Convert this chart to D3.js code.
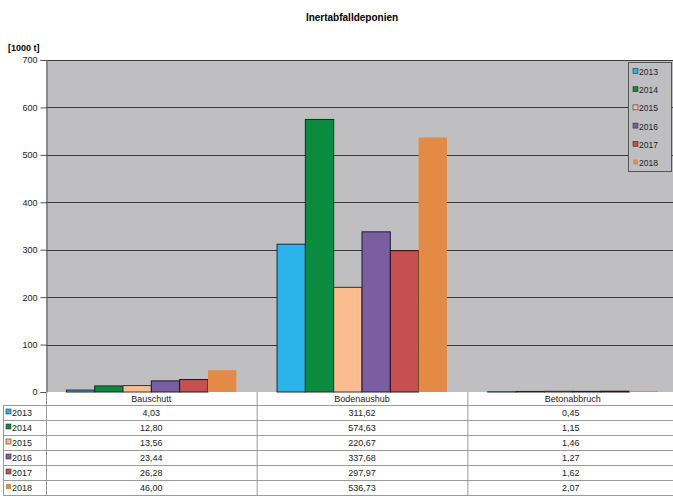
<!doctype html>
<html>
<head>
<meta charset="utf-8">
<script src="https://d3js.org/d3.v7.min.js"></script>
<style>
  body { margin: 0; background: #fff; }
  svg { font-family: "Liberation Sans", Arial, sans-serif; }
</style>
</head>
<body>
<svg width="673" height="500"></svg>
<script>
var categories = ["Bauschutt", "Bodenaushub", "Betonabbruch"];
var years = ["2013", "2014", "2015", "2016", "2017", "2018"];
var values2013 = [4.03, 311.62, 0.45];
var values2014 = [12.80, 574.63, 1.15];
var values2015 = [13.56, 220.67, 1.46];
var values2016 = [23.44, 337.68, 1.27];
var values2017 = [26.28, 297.97, 1.62];
var values2018 = [46.00, 536.73, 2.07];
var yTicks = [0, 100, 200, 300, 400, 500, 600, 700];

var series = [values2013, values2014, values2015, values2016, values2017, values2018];
var colors = ["#2ab4e9", "#0b8b3d", "#fbbd8f", "#7a5ea1", "#c5504f", "#e38a44"];
var strokes = ["#1a2a40", "#1a2a1a", "#3a3030", "#1a1a30", "#301010", "none"];

var svg = d3.select("svg");
var plotLeft = 46, plotRight = 678, plotTop = 60, plotBottom = 392;

var x = d3.scaleBand().domain(categories).range([plotLeft, plotRight]).padding(0);
var xi = d3.scaleBand().domain(years).range([0, x.bandwidth()]).paddingOuter(0.72).paddingInner(0);
var y = d3.scaleLinear().domain([0, 700]).range([plotBottom, plotTop]);

// title
svg.append("text").attr("x", 352).attr("y", 21).attr("text-anchor", "middle")
  .style("font-size", "10px").style("font-weight", "bold").text("Inertabfalldeponien");
svg.append("text").attr("x", 8).attr("y", 51)
  .style("font-size", "9px").style("font-weight", "bold").text("[1000 t]");

// plot background
svg.append("rect").attr("x", plotLeft).attr("y", plotTop).attr("width", plotRight - plotLeft).attr("height", plotBottom - plotTop)
  .attr("fill", "#bfbfc1");

// gridlines
svg.append("g").selectAll("line").data(yTicks.slice(1)).join("line")
  .attr("x1", plotLeft).attr("x2", plotRight)
  .attr("y1", d => Math.round(y(d)) + 0.5).attr("y2", d => Math.round(y(d)) + 0.5)
  .attr("stroke", "#3a3a3a").attr("stroke-width", 1);

// y axis
var yAxis = svg.append("g").attr("transform", "translate(" + (plotLeft + 0.5) + ",0)")
  .call(d3.axisLeft(y).tickValues(yTicks).tickSize(6).tickPadding(3));
yAxis.select(".domain").attr("stroke", "#555");
yAxis.selectAll(".tick line").attr("stroke", "#555");
yAxis.selectAll("text").style("font-size", "9px").style("font-family", "Liberation Sans, Arial, sans-serif").attr("fill", "#222");

// bars
var groups = svg.append("g").selectAll("g").data(years).join("g");
groups.selectAll("rect").data((yr, i) => categories.map((c, j) => ({ c: c, v: series[i][j], i: i })))
  .join("rect")
  .attr("x", d => x(d.c) + xi(years[d.i]))
  .attr("y", d => y(d.v))
  .attr("width", xi.bandwidth())
  .attr("height", d => plotBottom - y(d.v))
  .attr("fill", d => colors[d.i])
  .attr("stroke", d => strokes[d.i])
  .attr("stroke-width", 1);

// legend
var lg = svg.append("g").attr("transform", "translate(628,62)");
lg.append("rect").attr("x", 0.5).attr("y", 0.5).attr("width", 43).attr("height", 109)
  .attr("fill", "#bfbfc1").attr("stroke", "#555");
years.forEach(function (yr, i) {
  var row = lg.append("g").attr("transform", "translate(0," + (10 + i * 18.2) + ")");
  row.append("rect").attr("x", 5).attr("y", -3.5).attr("width", 5).attr("height", 5)
    .attr("fill", colors[i]).attr("stroke", i < 5 ? "#333" : "none").attr("stroke-width", 0.6);
  row.append("text").attr("x", 11).attr("y", 3).style("font-size", "8.5px").attr("fill", "#222").text(yr);
});

// data table
var rowH = 15;
var tbl = svg.append("g");
tbl.append("rect").attr("x", 3).attr("y", plotBottom + 13).attr("width", 670).attr("height", rowH * 6)
  .attr("fill", "#fff");
// horizontal lines
d3.range(7).forEach(function (k) {
  var yy = plotBottom + 13 + k * rowH + 0.5;
  tbl.append("line").attr("x1", 3).attr("x2", 673).attr("y1", yy).attr("y2", yy)
    .attr("stroke", "#9a9a9a");
});
// vertical lines
categories.concat(["_end"]).forEach(function (c) {
  var xx = c === "_end" ? plotRight : x(c);
  tbl.append("line").attr("x1", xx + 0.5).attr("x2", xx + 0.5).attr("y1", plotBottom).attr("y2", plotBottom + 13 + 6 * rowH)
    .attr("stroke", "#9a9a9a");
});
tbl.append("line").attr("x1", 3.5).attr("x2", 3.5).attr("y1", plotBottom + 13).attr("y2", plotBottom + 13 + 6 * rowH)
  .attr("stroke", "#9a9a9a");
// header
tbl.selectAll("text.head").data(categories).join("text").attr("class", "head")
  .attr("x", d => x(d) + x.bandwidth() / 2).attr("y", plotBottom + 10).attr("text-anchor", "middle")
  .style("font-size", "9px").attr("fill", "#222").text(d => d);
// rows
years.forEach(function (yr, i) {
  var yy = plotBottom + 13 + i * rowH + 11;
  tbl.append("rect").attr("x", 6).attr("y", yy - 7).attr("width", 5).attr("height", 5)
    .attr("fill", colors[i]).attr("stroke", i < 5 ? "#333" : "none").attr("stroke-width", 0.6);
  tbl.append("text").attr("x", 12).attr("y", yy).style("font-size", "9px").attr("fill", "#222").text(yr);
  categories.forEach(function (c, j) {
    tbl.append("text").attr("x", x(c) + x.bandwidth() / 2 - (j === 2 ? 2 : 0)).attr("y", yy)
      .attr("text-anchor", "middle").style("font-size", "9px").attr("fill", "#222")
      .text(d3.format(".2f")(series[i][j]).replace(".", ","));
  });
});
</script>
</body>
</html>
